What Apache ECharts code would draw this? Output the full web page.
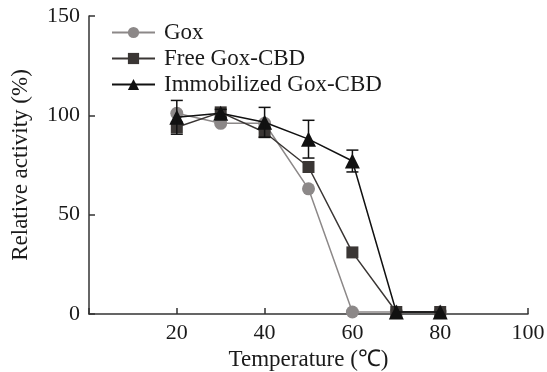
<!DOCTYPE html>
<html><head><meta charset="utf-8">
<script src="https://cdn.jsdelivr.net/npm/echarts@6/dist/echarts.min.js"></script>
<style>html,body{margin:0;padding:0;background:#fff}#c{width:547px;height:372px}</style>
</head><body><div id="c"></div>
<script>
const temps = [20, 30, 40, 50, 60, 70, 80];
const gox = [101, 96, 96, 63, 1, 1, 1];
const freeGox = [94, 101.5, 91.5, 74, 31, 1, 1];
const immob = [99, 101, 96.5, 88, 77, 1, 1];
const immobErr = [8.5, 2, 7.5, 9.5, 5.5, 0, 0];
const xTicks = [0, 20, 40, 60, 80, 100];
const yTicks = [0, 50, 100, 150];

const font = '"Liberation Serif","Times New Roman",serif';
const txt = '#1a1a1a';
const chart = echarts.init(document.getElementById('c'));
const pair = arr => temps.map((t, i) => [t, arr[i]]);
const errData = temps.map((t, i) => [t, immob[i] - immobErr[i], immob[i] + immobErr[i]]).filter((d, i) => immobErr[i] > 0);

chart.setOption({
  animation: false,
  grid: { left: 89, right: 19, top: 16, bottom: 58, containLabel: false, outerBoundsMode: 'none' },
  legend: {
    orient: 'vertical', left: 106, top: 16, itemWidth: 43, itemHeight: 14, itemGap: 3,
    textStyle: { fontFamily: font, fontSize: 23, lineHeight: 20, color: txt, padding: [0, 0, 0, 4] },
    data: ['Gox', 'Free Gox-CBD', 'Immobilized Gox-CBD']
  },
  xAxis: {
    type: 'value', min: 0, max: 100, interval: 20,
    name: 'Temperature (℃)', nameLocation: 'middle', nameGap: 32,
    nameTextStyle: { fontFamily: font, fontSize: 23, color: txt },
    axisLine: { lineStyle: { color: '#333', width: 1.5 } },
    axisTick: { inside: true, length: 6, lineStyle: { color: '#333', width: 1.5 } },
    axisLabel: { fontFamily: font, fontSize: 22, color: txt, margin: 8, formatter: v => v === 0 ? '' : String(v) },
    splitLine: { show: false }
  },
  yAxis: {
    type: 'value', min: 0, max: 150, interval: 50,
    name: 'Relative activity (%)', nameLocation: 'middle', nameGap: 57,
    nameTextStyle: { fontFamily: font, fontSize: 23, color: txt },
    axisLine: { show: true, lineStyle: { color: '#333', width: 1.5 } },
    axisTick: { show: true, inside: true, length: 6, lineStyle: { color: '#333', width: 1.5 } },
    axisLabel: { fontFamily: font, fontSize: 22, color: txt, margin: 9 },
    splitLine: { show: false }
  },
  series: [
    { name: 'Gox', type: 'line', data: pair(gox), symbol: 'circle', symbolSize: 13,
      itemStyle: { color: '#8c8888' }, lineStyle: { color: '#8c8888', width: 1.5 }, z: 2 },
    { name: 'Free Gox-CBD', type: 'line', data: pair(freeGox), symbol: 'rect', symbolSize: 12,
      itemStyle: { color: '#3a3634' }, lineStyle: { color: '#3a3634', width: 1.5 }, z: 3 },
    { name: 'Immobilized Gox-CBD', type: 'line', data: pair(immob), symbol: 'triangle', symbolSize: 15,
      itemStyle: { color: '#111' }, lineStyle: { color: '#111', width: 1.5 }, z: 4 },
    { type: 'custom', data: errData, z: 5, silent: true,
      renderItem: (params, api) => {
        const x = api.value(0);
        const lo = api.coord([x, api.value(1)]);
        const hi = api.coord([x, api.value(2)]);
        const w = 6;
        const st = { stroke: '#111', lineWidth: 1.5 };
        return { type: 'group', children: [
          { type: 'line', shape: { x1: lo[0], y1: lo[1], x2: hi[0], y2: hi[1] }, style: st },
          { type: 'line', shape: { x1: hi[0] - w, y1: hi[1], x2: hi[0] + w, y2: hi[1] }, style: st },
          { type: 'line', shape: { x1: lo[0] - w, y1: lo[1], x2: lo[0] + w, y2: lo[1] }, style: st }
        ]};
      }
    }
  ]
});
</script></body></html>
